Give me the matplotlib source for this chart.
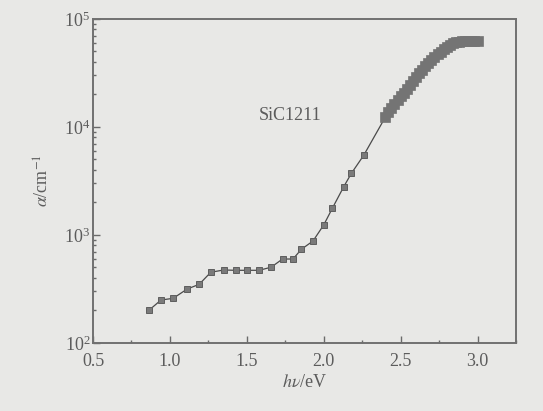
"""Absorption coefficient of SiC1211 versus photon energy (log scale)."""

import matplotlib
matplotlib.use("Agg")
import matplotlib.pyplot as plt
from matplotlib.ticker import LogLocator, MultipleLocator, FixedLocator

# ── Data ──────────────────────────────────────────────────────────────

# sparse measurement points below the absorption edge
sparse_ev = [0.864, 0.942, 1.021, 1.112, 1.190, 1.266, 1.350, 1.427,
             1.500, 1.580, 1.658, 1.732, 1.800, 1.855, 1.930, 2.000,
             2.056, 2.130, 2.180, 2.260]
sparse_alpha = [201, 250, 259, 316, 349, 452, 474, 471,
                471, 471, 503, 599, 599, 738, 879, 1239,
                1768, 2800, 3727, 5470]

# densely sampled points above 2.4 eV
dense_ev = [2.40, 2.42, 2.44, 2.46, 2.48, 2.50, 2.52, 2.54, 2.56, 2.58,
            2.60, 2.62, 2.64, 2.66, 2.68, 2.70, 2.72, 2.74, 2.76, 2.78,
            2.80, 2.82, 2.84, 2.86, 2.88, 2.90, 2.92, 2.94, 2.96, 2.98,
            3.00]
dense_alpha = [12300, 13650, 14960, 16200, 17600, 19200, 20800, 22650,
               24700, 26800, 29000, 31400, 33900, 36500, 39300, 41900,
               44500, 47000, 49500, 52200, 55000, 57500, 59400, 60800,
               61700, 62100, 62400, 62500, 62500, 62500, 62500]

sample_name = "SiC1211"
x_ticks = [0.5, 1.0, 1.5, 2.0, 2.5, 3.0]

# ── Style ─────────────────────────────────────────────────────────────

bg = "#e8e8e6"
ink = "#5c5c5c"
plt.rcParams["font.family"] = ["Liberation Serif", "DejaVu Serif"]
plt.rcParams["mathtext.fontset"] = "stix"
plt.rcParams["text.color"] = ink
plt.rcParams["axes.labelcolor"] = ink
plt.rcParams["xtick.color"] = ink
plt.rcParams["ytick.color"] = ink

fig = plt.figure(figsize=(5.43, 4.11), dpi=100, facecolor=bg)
ax = fig.add_axes([0.1713, 0.1655, 0.7790, 0.7883], facecolor=bg)

energy = sparse_ev + dense_ev
alpha = sparse_alpha + dense_alpha

ax.plot(energy, alpha, color="#4a4a4a", lw=0.9, zorder=2)
ax.plot(sparse_ev, sparse_alpha, ls="none", marker="s", ms=5,
        mfc="#7a7a7a", mec="#5e5e5e", mew=0.7, zorder=3)
ax.plot(dense_ev, dense_alpha, ls="none", marker="s", ms=6.5,
        mfc="#747474", mec="#747474", mew=0.5, zorder=3)

ax.set_yscale("log")
ax.set_xlim(0.5, 3.25)
ax.set_ylim(1e2, 1e5)

ax.xaxis.set_major_locator(FixedLocator(x_ticks))
ax.xaxis.set_minor_locator(MultipleLocator(0.25))
ax.yaxis.set_major_locator(LogLocator(base=10))
ax.yaxis.set_minor_locator(LogLocator(base=10, subs=range(2, 10)))

ax.tick_params(which="both", direction="in", top=False, right=False,
               labelsize=13, width=1.0, color="#6a6a6a")
ax.tick_params(which="major", length=5)
ax.tick_params(axis="x", which="major", pad=7)
ax.tick_params(axis="y", which="major", pad=2)
ax.tick_params(which="minor", length=2.5)
ax.set_xticklabels([f"{v:.1f}" for v in x_ticks])

for sp in ax.spines.values():
    sp.set_color("#707070")
    sp.set_linewidth(1.4)

ax.set_xlabel(r"$h\nu$/eV", fontsize=13, labelpad=3)
ax.set_ylabel(r"$\alpha$/cm$^{-1}$", fontsize=13, labelpad=8)

ax.text(1.78, 1.29e4, sample_name, fontsize=13, ha="center", va="center")

fig.savefig("out.png", dpi=100, facecolor=bg)
